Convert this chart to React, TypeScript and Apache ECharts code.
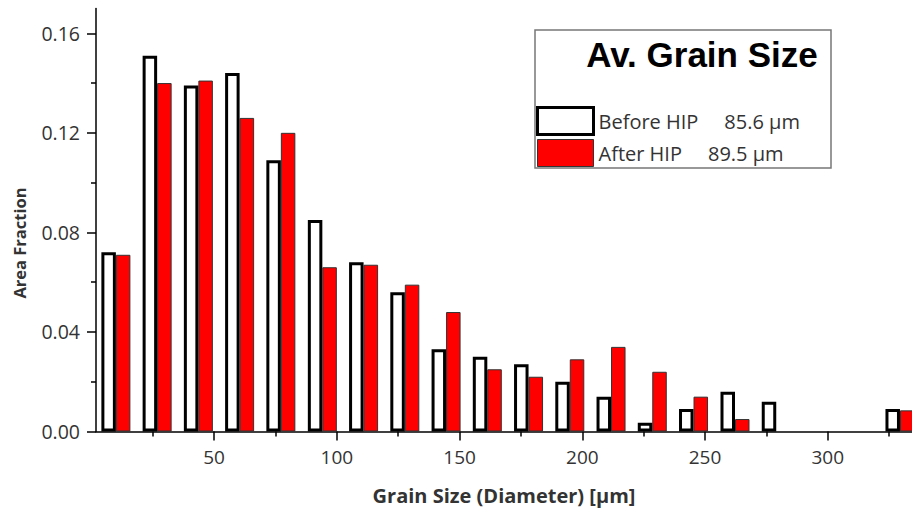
import React, { useEffect, useRef } from "react";
import * as echarts from "echarts";

// Histogram bins (bin centre, µm) and area fractions per bin
const binCenters = [10, 26.8, 43.6, 60.4, 77.2, 94.1, 110.9, 127.7, 144.5, 161.3, 178.1, 194.9, 211.7, 228.5, 245.3, 262.2, 279.0, 295.8, 312.6, 329.4];
const beforeHIP = [0.072, 0.151, 0.139, 0.144, 0.109, 0.085, 0.068, 0.056, 0.033, 0.030, 0.027, 0.020, 0.014, 0.0035, 0.009, 0.016, 0.012, null, null, 0.009];
const afterHIP = [0.071, 0.140, 0.141, 0.126, 0.120, 0.066, 0.067, 0.059, 0.048, 0.025, 0.022, 0.029, 0.034, 0.024, 0.014, 0.005, null, null, null, 0.0085];

const seriesNames = ["Before HIP", "After HIP"];
const avgGrainSize = ["85.6", "89.5"];

const xMajorTicks = [50, 100, 150, 200, 250, 300];
const xMinorTicks = [25, 75, 125, 175, 225, 275, 325];
const yMajorTicks = [0, 0.04, 0.08, 0.12, 0.16];
const yMinorTicks = [0.02, 0.06, 0.1, 0.14];

const X_MIN = 1.9;
const X_MAX = 334.3;
const Y_MIN = 0;
const Y_MAX = 0.17;

const FONT = '"Open Sans", "Noto Sans", sans-serif';
const TEXT = "#333333";

const toPairs = (vals: (number | null)[]) =>
  binCenters
    .map((x, i) => [x, vals[i]] as [number, number | null])
    .filter((p) => p[1] !== null);

const beforeStyle = { color: "#ffffff", borderColor: "#000000", borderWidth: 3 };
const afterStyle = { color: "#ff0000", borderColor: "#333333", borderWidth: 1 };

export default function App() {
  const ref = useRef<HTMLDivElement>(null);

  useEffect(() => {
    if (!ref.current) return;
    const chart = echarts.init(ref.current, undefined, { renderer: "svg" });

    const axisLine = { show: true, lineStyle: { color: "#000", width: 1.5 } };

    chart.setOption({
      animation: false,
      backgroundColor: "#ffffff",
      grid: { left: 96, right: 0, top: 8.4, bottom: 83.5, containLabel: false },
      xAxis: [
        {
          type: "value",
          position: "bottom",
          min: X_MIN,
          max: X_MAX,
          axisLine,
          splitLine: { show: false },
          axisTick: { show: true, length: 9, customValues: xMajorTicks, lineStyle: { color: "#000", width: 1.5 } },
          axisLabel: {
            customValues: xMajorTicks,
            margin: 16,
            fontFamily: FONT,
            fontSize: 19,
            color: TEXT,
          },
          name: "Grain Size (Diameter) [µm]",
          nameLocation: "middle",
          nameGap: 54,
          nameTextStyle: { fontFamily: FONT, fontSize: 20, fontWeight: "bold", color: TEXT },
        },
        {
          type: "value",
          position: "bottom",
          min: X_MIN,
          max: X_MAX,
          axisLine: { show: false },
          splitLine: { show: false },
          axisTick: { show: true, length: 5, customValues: xMinorTicks, lineStyle: { color: "#000", width: 1.5 } },
          axisLabel: { show: false },
        },
      ],
      yAxis: [
        {
          type: "value",
          position: "left",
          min: Y_MIN,
          max: Y_MAX,
          axisLine,
          splitLine: { show: false },
          axisTick: { show: true, length: 9, customValues: yMajorTicks, lineStyle: { color: "#000", width: 1.5 } },
          axisLabel: {
            customValues: yMajorTicks,
            margin: 16,
            fontFamily: FONT,
            fontSize: 19.5,
            color: TEXT,
            formatter: (v: number) => v.toFixed(2),
          },
        },
        {
          type: "value",
          position: "left",
          min: Y_MIN,
          max: Y_MAX,
          axisLine: { show: false },
          splitLine: { show: false },
          axisTick: { show: true, length: 5, customValues: yMinorTicks, lineStyle: { color: "#000", width: 1.5 } },
          axisLabel: { show: false },
        },
      ],
      legend: {
        left: 536,
        top: 106,
        orient: "vertical",
        icon: "rect",
        itemWidth: 56,
        itemHeight: 27,
        itemGap: 3,
        selectedMode: false,
        padding: 0,
        textStyle: { fontFamily: FONT, fontSize: 20, color: TEXT },
        formatter: (name: string) => `${name}     ${avgGrainSize[seriesNames.indexOf(name)]} µm`,
        data: [
          { name: seriesNames[0], itemStyle: beforeStyle },
          { name: seriesNames[1], itemStyle: afterStyle },
        ],
      },
      graphic: [
        {
          type: "rect",
          shape: { x: 535, y: 30, width: 296, height: 138 },
          style: { fill: "none", stroke: "#777777", lineWidth: 1.5 },
          z: 1,
        },
        {
          type: "text",
          x: 702,
          y: 54,
          style: {
            text: "Av. Grain Size",
            font: 'bold 35px "Liberation Sans", Arial, sans-serif',
            fill: "#000000",
            align: "center",
            verticalAlign: "middle",
          },
        },
        {
          type: "text",
          x: 19,
          y: 243,
          rotation: Math.PI / 2,
          style: {
            text: "Area Fraction",
            font: `bold 16.5px ${FONT}`,
            fill: TEXT,
            align: "center",
            verticalAlign: "middle",
          },
        },
      ],
      series: [
        {
          type: "bar",
          name: seriesNames[0],
          xAxisIndex: 0,
          yAxisIndex: 0,
          data: toPairs(beforeHIP),
          barWidth: 14.5,
          barGap: "0%",
          z: 3,
          itemStyle: beforeStyle,
        },
        {
          type: "bar",
          name: seriesNames[1],
          xAxisIndex: 0,
          yAxisIndex: 0,
          data: toPairs(afterHIP),
          barWidth: 14.5,
          barGap: "0%",
          z: 2,
          itemStyle: afterStyle,
        },
      ],
    });

    return () => chart.dispose();
  }, []);

  return (
    <div
      ref={ref}
      style={{ position: "absolute", left: 0, top: 0, width: 912, height: 515, background: "#fff" }}
    />
  );
}
